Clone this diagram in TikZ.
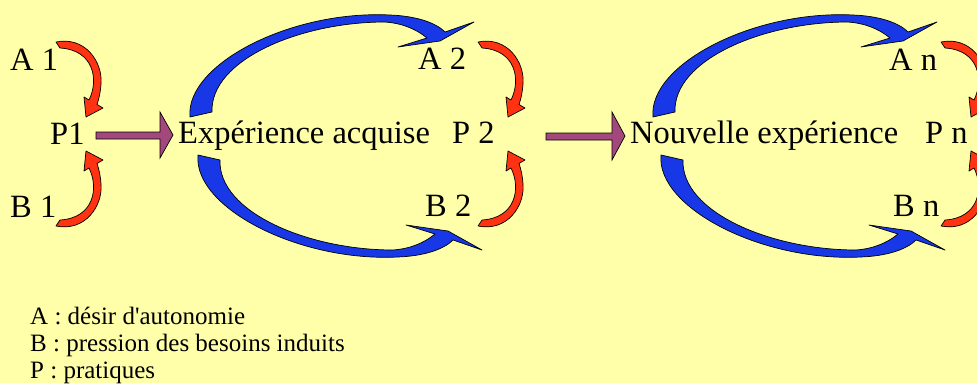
\documentclass[tikz,border=0pt]{standalone}
\usepackage{fontspec}
\setmainfont{Liberation Serif}
\definecolor{bg}{RGB}{255,255,170}
\definecolor{bluearr}{RGB}{24,56,232}
\definecolor{redarr}{RGB}{255,51,17}
\definecolor{purparr}{RGB}{163,72,124}
\tikzset{
  lbl/.style={anchor=base west, inner sep=0pt, font=\fontsize{32.5}{37}\selectfont},
  leg/.style={anchor=base west, inner sep=0pt, font=\fontsize{25}{30}\selectfont},
  bluefill/.style={fill=bluearr, draw=black, line width=0.7pt, line join=round},
  redfill/.style={fill=redarr, draw=black, line width=0.7pt, line join=round},
  purpfill/.style={fill=purparr, draw=black, line width=0.7pt, line join=miter},
}
\newcommand\RedArrowShape{%
  \path[redfill] (56,42) .. controls (85,36) and (103,62) .. (101,84)
    .. controls (100.5,92) and (99,99) .. (97,104.5)
    -- (103,108) -- (86,117) -- (84,97) -- (89,100)
    .. controls (99,80) and (94,50) .. (60,48) -- cycle;}
\newcommand\BlueArrowShape{%
  \path[bluefill] (190,117) .. controls (185,65) and (290,10) .. (390,15)
    .. controls (415,16) and (435,22) .. (445,32)
    -- (474,22) -- (440,41) -- (398,47) -- (427,38)
    .. controls (415,28) and (400,23) .. (385,22)
    .. controls (300,22) and (210,60) .. (212,112) -- cycle;}
\begin{document}
\begin{tikzpicture}[x=1pt,y=-1pt]
\fill[bg] (0,0) rectangle (977,383);
\useasboundingbox (0,0) rectangle (977,383);

% blue curved arrows
\BlueArrowShape
\begin{scope}[shift={(8,272)}, yscale=-1]\BlueArrowShape\end{scope}
\begin{scope}[shift={(463,0)}]\BlueArrowShape\end{scope}
\begin{scope}[shift={(471,272)}, yscale=-1]\BlueArrowShape\end{scope}

% red curved arrows
\RedArrowShape
\begin{scope}[shift={(0,268)}, yscale=-1]\RedArrowShape\end{scope}
\begin{scope}[shift={(422,0)}]\RedArrowShape\end{scope}
\begin{scope}[shift={(422,268)}, yscale=-1]\RedArrowShape\end{scope}
\begin{scope}[shift={(885,0)}]\RedArrowShape\end{scope}
\begin{scope}[shift={(885,268)}, yscale=-1]\RedArrowShape\end{scope}

% purple block arrows
\path[purpfill] (96,132) -- (160,132) -- (160,112) -- (173,135) -- (160,158) -- (160,139) -- (96,139) -- cycle;
\path[purpfill] (546,133) -- (612,133) -- (612,112) -- (625,136) -- (612,160) -- (612,140) -- (546,140) -- cycle;

% labels
\node[lbl] (A1) at (10,70) {A 1};
\node[lbl] (P1) at (50,144) {P1};
\node[lbl] (B1) at (10,217) {B 1};
\node[lbl] (exp) at (178,143) {Expérience acquise};
\node[lbl] (A2) at (418,69) {A 2};
\node[lbl] (P2) at (452,143) {P 2};
\node[lbl] (B2) at (425,216) {B 2};
\node[lbl] (nouv) at (630,143) {Nouvelle expérience};
\node[lbl] (An) at (889,70) {A n};
\node[lbl] (Pn) at (925,143) {P n};
\node[lbl] (Bn) at (893,216) {B n};

% legend
\node[leg] (legA) at (30,324) {A : désir d\textquotesingle autonomie};
\node[leg] (legB) at (30,351) {B : pression des besoins induits};
\node[leg] (legP) at (30,378) {P : pratiques};
\end{tikzpicture}
\end{document}
